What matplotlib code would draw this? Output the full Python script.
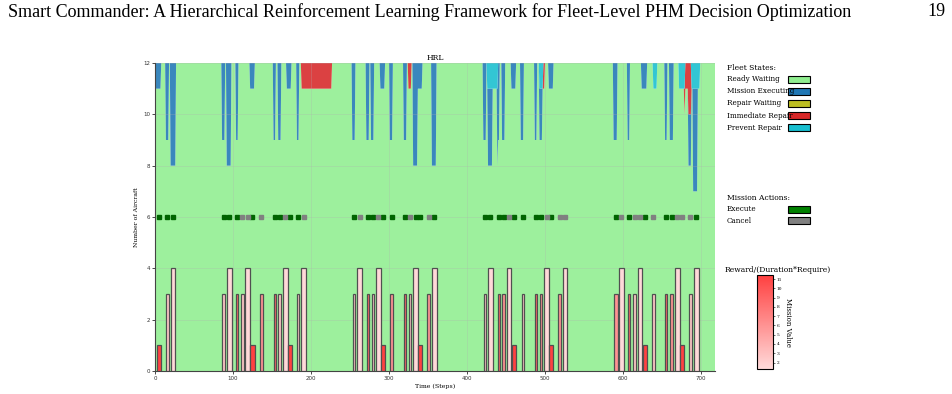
import matplotlib
matplotlib.use("Agg")
import matplotlib.pyplot as plt
import numpy as np
from matplotlib.patches import Rectangle
from matplotlib.colors import LinearSegmentedColormap, Normalize

TOTAL_AIRCRAFT = 12
N_STEPS = 719

# fleet state events: (start step, end step, aircraft count)
executing_events = [(1, 7, 1), (14, 17, 3), (20, 26, 4), (86, 89, 3), (92, 97, 4), (104, 106, 3),
                    (122, 127, 1), (152, 154, 3), (158, 161, 3), (169, 174, 1), (182, 184, 3),
                    (253, 256, 3), (271, 274, 3), (277, 280, 3), (289, 294, 1), (301, 304, 3),
                    (319, 322, 3), (331, 336, 4), (337, 342, 1), (355, 360, 4), (421, 424, 3),
                    (427, 432, 3), (439, 441, 3), (445, 448, 3), (457, 462, 1), (469, 472, 3),
                    (487, 489, 3), (493, 496, 2), (505, 510, 1), (588, 592, 3), (606, 608, 3),
                    (624, 630, 1), (654, 656, 3), (660, 664, 3), (684, 687, 2), (690, 695, 4)]
repair_wait_events = []
immediate_events = [(188, 226, 1), (325, 328, 1), (498, 499, 1), (679, 683, 1), (684, 687, 2)]
prevent_events = [(426, 439, 1), (493, 497, 1), (639, 643, 1), (672, 679, 1), (688, 698, 1)]

# missions: time, required aircraft, duration, value, executed?
mission_time = [5.5, 16, 23, 88, 95.5, 105.5, 112, 119, 125, 136, 153.5, 160, 167, 173, 183.5, 190.5,
                255.5, 262.5, 273, 279.5, 286.5, 292.5, 303.5, 320.5, 327, 334, 340, 351, 358,
                423, 430, 441, 447, 454, 460.5, 472, 489, 495, 502, 508, 519, 526,
                591, 598, 608, 615, 622, 628, 639, 655.5, 662.5, 669.5, 676, 686.5, 694]
mission_require = [1, 3, 4, 3, 4, 3, 3, 4, 1, 3, 3, 3, 4, 1, 3, 4,
                   3, 4, 3, 3, 4, 1, 3, 3, 3, 4, 1, 3, 4,
                   3, 4, 3, 3, 4, 1, 3, 3, 3, 4, 1, 3, 4,
                   3, 4, 3, 3, 4, 1, 3, 3, 3, 4, 1, 3, 4]
mission_duration = [5.5, 3.5, 6, 3.5, 5.5, 2.5, 3.5, 6, 5.5, 4, 2.5, 4, 6, 5.5, 3, 6,
                    3, 6, 2.5, 3.5, 5.5, 5.5, 4, 2.5, 3.5, 5.5, 5.5, 4, 6,
                    3.5, 6, 2.5, 3.5, 6, 5, 3.5, 2.5, 3.5, 6, 5.5, 4, 5.5,
                    4, 6, 2.5, 3.5, 6, 5.5, 3.5, 2.5, 4, 6, 5.5, 3.5, 6]
mission_value = [11.4, 2.5, 1.4, 2.5, 1.4, 9, 2.5, 1.4, 11.4, 6, 9, 2.5, 1.4, 11.4, 2.5, 1.4,
                 2.5, 1.4, 9, 2.5, 1.4, 11.4, 6, 9, 2.5, 1.4, 11.4, 6, 1.4,
                 2.5, 1.4, 9, 6, 1.4, 11.4, 2.5, 9, 6, 1.4, 11.4, 6, 1.4,
                 6, 1.4, 9, 2.5, 1.4, 11.4, 2.5, 9, 6, 1.4, 11.4, 2.5, 1.4]
mission_executed = [1, 1, 1, 1, 1, 1, 0, 0, 1, 0, 1, 1, 0, 1, 1, 0,
                    1, 0, 1, 1, 0, 1, 1, 1, 0, 1, 1, 0, 1,
                    1, 1, 1, 1, 0, 1, 1, 1, 1, 0, 1, 0, 0,
                    1, 0, 1, 0, 0, 1, 0, 1, 1, 0, 0, 0, 1]


def build_series(events):
    s = np.zeros(N_STEPS)
    for a, b, n in events:
        s[a:b + 1] += n
    return s


steps = np.arange(N_STEPS)
executing = build_series(executing_events)
repair_wait = build_series(repair_wait_events)
immediate = build_series(immediate_events)
prevent = build_series(prevent_events)
ready = TOTAL_AIRCRAFT - executing - repair_wait - immediate - prevent

state_colors = ["#90ee90", "#1f77b4", "#bcbd22", "#d62728", "#17becf"]
state_names = ["Ready Waiting", "Mission Executing", "Repair Waiting", "Immediate Repair", "Prevent Repair"]

plt.rcParams["font.family"] = "DejaVu Serif"

fig = plt.figure(figsize=(9.53, 3.94), dpi=100)
ax = fig.add_axes([155 / 953, 1 - 371 / 394, 560 / 953, 308 / 394])

ax.stackplot(steps, ready, executing, repair_wait, immediate, prevent,
             colors=state_colors, alpha=0.88, linewidth=0)

cmap = LinearSegmentedColormap.from_list("mv", ["#ffdada", "#ff4040"])
norm = Normalize(vmin=1.3, vmax=11.45)
bar_colors = [cmap(norm(v)) for v in mission_value]
ax.bar(mission_time, mission_require, width=mission_duration, color=bar_colors,
       edgecolor="#505050", linewidth=0.9, zorder=3)

t = np.array(mission_time)
ex = np.array(mission_executed) == 1
ax.plot(t[ex], np.full(ex.sum(), 6), "s", color="#006400", markersize=2.4, zorder=4)
ax.plot(t[~ex], np.full((~ex).sum(), 6), "s", color="#808080", markersize=2.4, zorder=4)

ax.set_xlim(0, 718)
ax.set_ylim(0, 12)
ax.set_yticks(range(0, 13, 2))
ax.set_xticks(range(0, 701, 100))
ax.tick_params(labelsize=4, length=2, width=0.5, pad=1.5, labelcolor="#333333")
for lab in ax.get_xticklabels() + ax.get_yticklabels():
    lab.set_family("DejaVu Sans")
ax.grid(True, alpha=0.3, linewidth=0.6)
for s in ["top", "right"]:
    ax.spines[s].set_visible(False)
ax.spines["left"].set_color("#444444")
ax.spines["bottom"].set_color("#444444")
ax.set_title("HRL", fontsize=5.5, pad=2)
ax.set_xlabel("Time (Steps)", fontsize=4.5, labelpad=2)
ax.set_ylabel("Number of Aircraft", fontsize=4.5, labelpad=3)


def fx(px):
    return px / 953


def fy(py):
    return 1 - py / 394


fig.text(fx(727), fy(68), "Fleet States:", fontsize=5.5, va="center")
for i, (name, c) in enumerate(zip(state_names, state_colors)):
    y = 79 + i * 12.2
    fig.text(fx(727), fy(y), name, fontsize=5.2, va="center")
    fig.add_artist(Rectangle((fx(788), fy(y + 3.5)), 22 / 953, 7 / 394, facecolor=c,
                             edgecolor="black", linewidth=0.8, transform=fig.transFigure))

fig.text(fx(727), fy(198), "Mission Actions:", fontsize=5.5, va="center")
for i, (name, c) in enumerate(zip(["Execute", "Cancel"], ["#008000", "#808080"])):
    y = 209 + i * 11.5
    fig.text(fx(727), fy(y), name, fontsize=5.2, va="center")
    fig.add_artist(Rectangle((fx(788), fy(y + 3.5)), 22 / 953, 7 / 394, facecolor=c,
                             edgecolor="black", linewidth=0.8, transform=fig.transFigure))

cax = fig.add_axes([fx(757), fy(369), 16 / 953, 94 / 394])
sm = plt.cm.ScalarMappable(cmap=cmap, norm=norm)
cb = fig.colorbar(sm, cax=cax)
cb.set_ticks(range(2, 12))
cb.ax.tick_params(labelsize=3.2, length=1.5, width=0.4, pad=1)
cb.outline.set_linewidth(0.8)
cb.set_label("Mission Value", fontsize=5, rotation=270, labelpad=7)
fig.text(fx(778), fy(270), "Reward/(Duration*Require)", fontsize=5.5, ha="center", va="center")

fig.text(8 / 953, fy(12), "Smart Commander: A Hierarchical Reinforcement Learning Framework for Fleet-Level PHM Decision Optimization",
         fontsize=13, family="Liberation Serif", va="center")
fig.text(946 / 953, fy(12), "19", fontsize=13, family="Liberation Serif", va="center", ha="right")

fig.savefig("out.png", dpi=100)
